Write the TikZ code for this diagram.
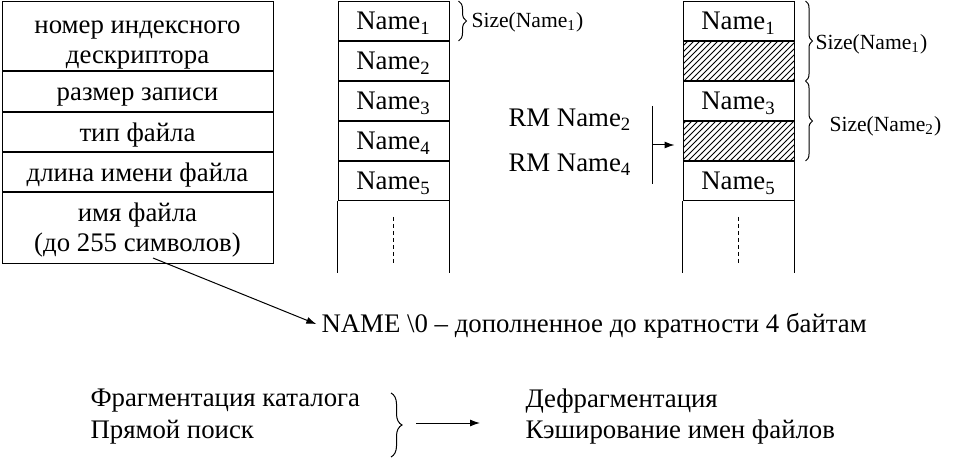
\documentclass[tikz,border=0pt]{standalone}
\usepackage{fontspec}
\setmainfont{Liberation Serif}
\usetikzlibrary{arrows.meta,patterns,decorations.pathreplacing}
\begin{document}
\begin{tikzpicture}
	[x=0.5pt,y=-0.5pt,line width=0.5pt,
	cell/.style={rectangle,draw,inner sep=0pt,minimum width=135.5pt,align=center,font=\fontsize{13.4}{15}\selectfont},
	row/.style={cell,text height=11pt,text depth=2pt},
	slot/.style={rectangle,draw,inner sep=0pt,minimum width=55.5pt,minimum height=19.5pt,text height=11pt,text depth=2pt,font=\fontsize{13.4}{15}\selectfont},
	freed/.style={slot,pattern=north east lines},
	txt/.style={inner sep=0pt,anchor=west,font=\fontsize{13.4}{15}\selectfont},
	sizetxt/.style={inner sep=0pt,anchor=west,font=\fontsize{10.8}{12}\selectfont},
	brace/.style={decorate,decoration={brace,amplitude=#1}},
	gapline/.style={dash pattern=on 2pt off 1.5pt},
	>={Latex[length=5pt,width=3.5pt]}]
	\useasboundingbox (0,0) rectangle (957,459);
	% directory entry
	\node[cell,minimum height=34.5pt,name=l1]at(137.5,36.5){\rule{0pt}{14.5pt}номер индексного\\дескриптора};
	\node[row,minimum height=20pt,name=l2]at(137.5,92){размер записи};
	\node[row,minimum height=19.5pt,name=l3]at(137.5,132.5){тип файла};
	\node[row,minimum height=19.5pt,name=l4]at(137.5,172.5){длина имени файла};
	\node[cell,minimum height=35.5pt,name=l5]at(137.5,228.5){\rule{0pt}{10.4pt}имя файла\\(до 255 символов)};
	% catalogue before
	\node[slot,name=m1]at(393.5,21){Name\textsubscript{1}};
	\node[slot,name=m2]at(393.5,61){Name\textsubscript{2}};
	\node[slot,name=m3]at(393.5,101){Name\textsubscript{3}};
	\node[slot,name=m4]at(393.5,141){Name\textsubscript{4}};
	\node[slot,name=m5]at(393.5,181){Name\textsubscript{5}};
	\draw (m5.south west) -- ++(0,72);
	\draw (m5.south east) -- ++(0,72);
	\draw[gapline] ([yshift=-8pt]m5.south) -- ++(0,46);
	\draw[brace=4pt] ([xshift=4.5pt]m1.north east) -- ([xshift=4.5pt]m1.south east);
	\node[sizetxt,name=s1]at(471,22){Size(Name\textsubscript{1})};
	% catalogue after
	\node[slot,name=r1]at(738.5,21){Name\textsubscript{1}};
	\node[freed,name=r2]at(738.5,61){};
	\node[slot,name=r3]at(738.5,101){Name\textsubscript{3}};
	\node[freed,name=r4]at(738.5,141){};
	\node[slot,name=r5]at(738.5,181){Name\textsubscript{5}};
	\draw (r5.south west) -- ++(0,72);
	\draw (r5.south east) -- ++(0,72);
	\draw[gapline] ([yshift=-8pt]r5.south) -- ++(0,46);
	\draw[brace=3.5pt] ([xshift=5.5pt]r1.north east) -- ([xshift=5.5pt]r2.south east);
	\draw[brace=3.5pt] ([xshift=5.5pt]r3.north east) -- ([xshift=5.5pt]r4.south east);
	\node[sizetxt,name=s2]at(815,44){Size(Name\textsubscript{1})};
	\node[sizetxt,name=s3]at(829,126){Size(Name\textsubscript{2})};
	% removal
	\node[txt,name=rm2]at(508,120){RM Name\textsubscript{2}};
	\node[txt,name=rm4]at(508,165){RM Name\textsubscript{4}};
	\coordinate (bartop) at (652,106);
	\coordinate (barbot) at (652,184);
	\coordinate (barmid) at (652,145);
	\draw (bartop) -- (barbot);
	\draw[->,shorten >=4pt] (barmid) -- (barmid-|r4.west);
	% name field
	\node[txt,name=pad]at(321,326){NAME \textbackslash0 – дополненное до кратности 4 байтам};
	\coordinate (ptr) at (153,258);
	\draw[->,shorten >=2.5pt] (ptr) -- (pad.west);
	% problems and remedies
	\node[txt,name=frag]at(90,401){Фрагментация каталога};
	\node[txt,name=scan]at(90,432){Прямой поиск};
	\node[txt,name=defrag]at(525,401){Дефрагментация};
	\node[txt,name=cache]at(525,432){Кэширование имен файлов};
	\coordinate (bt) at (391,393);
	\coordinate (bb) at (391,457);
	\draw[brace=5.5pt] (bt) -- (bb);
	\coordinate (from) at (416,423);
	\coordinate (to) at (480,423);
	\draw[->] (from) -- (to);
\end{tikzpicture}
\end{document}
